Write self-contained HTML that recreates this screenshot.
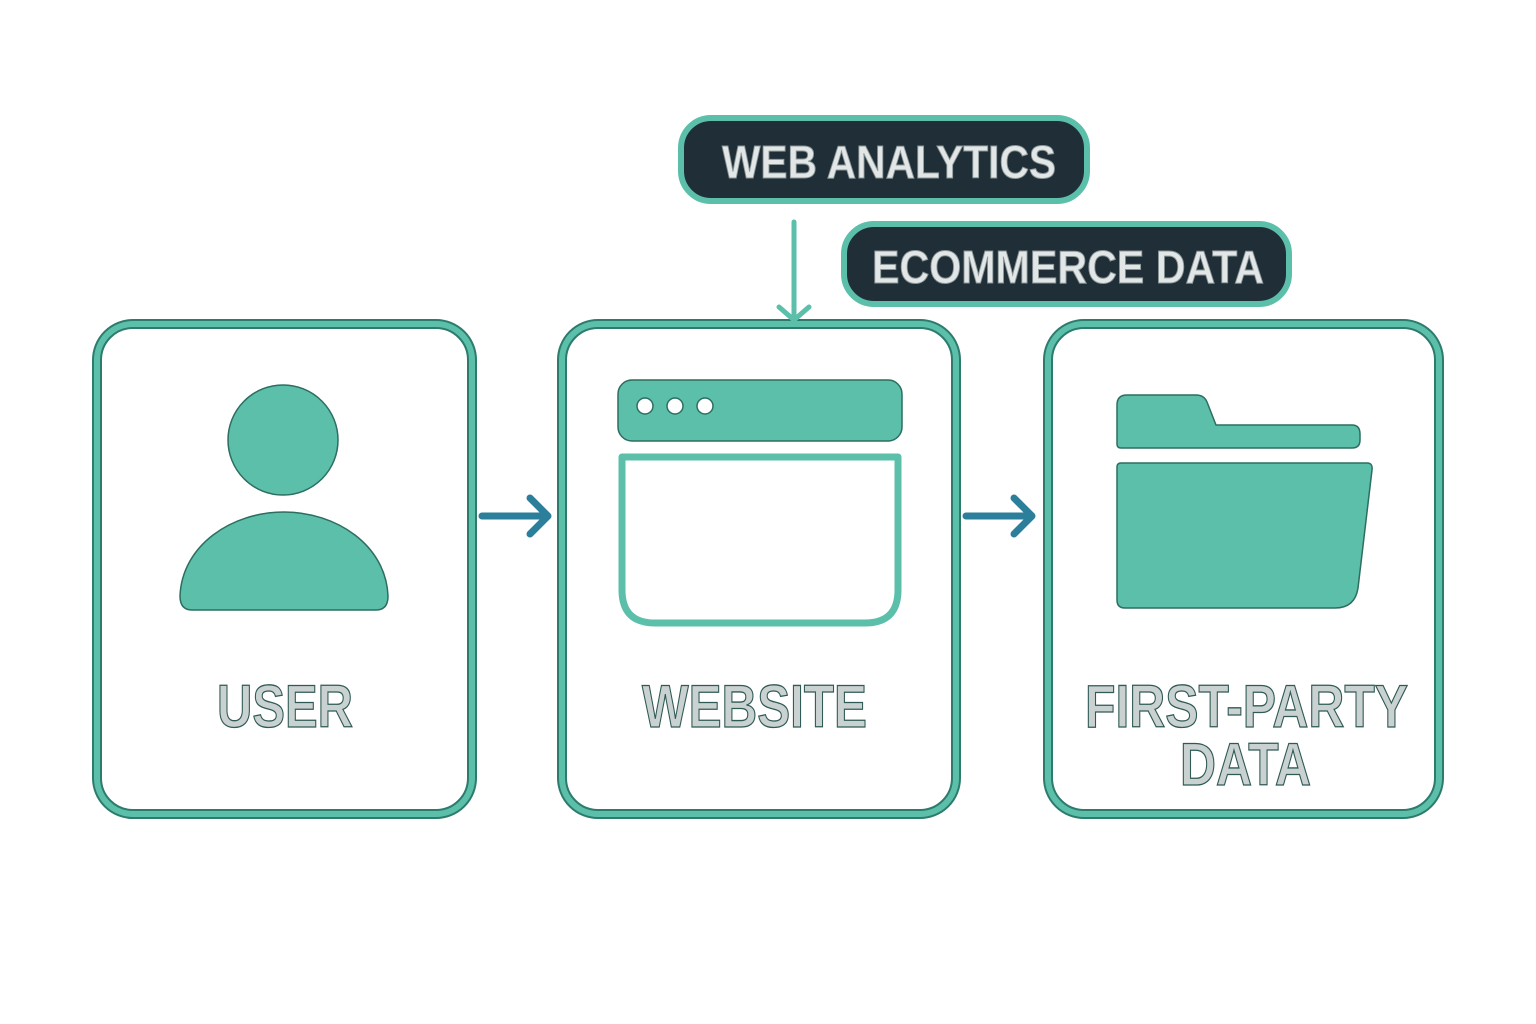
<!DOCTYPE html>
<html><head><meta charset="utf-8"><style>
html,body{margin:0;padding:0;background:#fff;width:1536px;height:1024px;overflow:hidden}
svg{display:block}
</style></head><body>
<svg width="1536" height="1024" viewBox="0 0 1536 1024" xmlns="http://www.w3.org/2000/svg">
<g fill="none" stroke-linejoin="round">
  <!-- boxes: dark edge then teal -->
  <g stroke="#2c7b6c" stroke-width="10">
    <rect x="97" y="324" width="375" height="490" rx="36"/>
    <rect x="562" y="324" width="394" height="490" rx="36"/>
    <rect x="1048" y="324" width="391" height="490" rx="36"/>
  </g>
  <g stroke="#5bbfaa" stroke-width="6">
    <rect x="97" y="324" width="375" height="490" rx="36"/>
    <rect x="562" y="324" width="394" height="490" rx="36"/>
    <rect x="1048" y="324" width="391" height="490" rx="36"/>
  </g>
</g>
<!-- pills -->
<rect x="681" y="118" width="406" height="83" rx="30" fill="#1f2e37" stroke="#5bbfaa" stroke-width="6"/>
<rect x="844" y="224" width="445" height="80" rx="30" fill="#1f2e37" stroke="#5bbfaa" stroke-width="6"/>
<g font-family="Liberation Sans, sans-serif" font-weight="bold" fill="#e2e6e6" stroke="#8a9696" stroke-width="1">
  <text x="722" y="178" font-size="46" textLength="334" lengthAdjust="spacingAndGlyphs">WEB ANALYTICS</text>
  <text x="872" y="283" font-size="46" textLength="392" lengthAdjust="spacingAndGlyphs">ECOMMERCE DATA</text>
</g>
<!-- vertical arrow -->
<g stroke="#5bbfaa" stroke-width="5" fill="none" stroke-linecap="round" stroke-linejoin="round">
  <line x1="794" y1="222" x2="794" y2="318"/>
  <polyline points="779,307 794,320 809,307"/>
</g>
<!-- horizontal arrows -->
<g stroke="#2b7f9a" stroke-width="7" fill="none" stroke-linecap="round" stroke-linejoin="round">
  <line x1="482" y1="516" x2="547" y2="516"/>
  <polyline points="530,498 548,516 530,534"/>
  <line x1="966" y1="516" x2="1031" y2="516"/>
  <polyline points="1014,498 1032,516 1014,534"/>
</g>
<!-- user icon -->
<g fill="#5bbfaa" stroke="#2c6e60" stroke-width="1.5">
  <circle cx="283" cy="440" r="55"/>
  <path d="M192,610 Q180,610 180,596 C182,545 232,512 284,512 C336,512 386,545 388,596 Q388,610 376,610 Z"/>
</g>
<!-- browser icon -->
<rect x="618" y="380" width="284" height="61" rx="14" fill="#5bbfaa" stroke="#2c6e60" stroke-width="1.5"/>
<g fill="#fff" stroke="#2c6e60" stroke-width="1.5">
  <circle cx="645" cy="406" r="8"/><circle cx="675" cy="406" r="8"/><circle cx="705" cy="406" r="8"/>
</g>
<path d="M622,457 H898 V590 Q898,623 865,623 H655 Q622,623 622,590 Z" fill="#fff" stroke="#5bbfaa" stroke-width="7" stroke-linejoin="round"/>
<!-- folder icon -->
<g fill="#5bbfaa" stroke="#2c6e60" stroke-width="1.5" stroke-linejoin="round">
  <path d="M1127,395 H1196 Q1204,395 1207,402 L1216,425 H1352 Q1360,425 1360,434 V440 Q1360,448 1352,448 H1121 Q1117,448 1117,444 V405 Q1117,395 1127,395 Z"/>
  <path d="M1121,463 H1367 Q1373,463 1372,470 L1358,588 Q1355,608 1335,608 H1125 Q1117,608 1117,600 V467 Q1117,463 1121,463 Z"/>
</g>
<!-- labels -->
<g font-family="Liberation Sans, sans-serif" font-weight="bold" fill="#c9d1d1" stroke="#2f5a55" stroke-width="1.3">
  <text x="217" y="727" font-size="60" textLength="136" lengthAdjust="spacingAndGlyphs">USER</text>
  <text x="642" y="727" font-size="60" textLength="225" lengthAdjust="spacingAndGlyphs">WEBSITE</text>
  <text x="1085" y="727" font-size="60" textLength="323" lengthAdjust="spacingAndGlyphs">FIRST-PARTY</text>
  <text x="1180" y="785" font-size="60" textLength="131" lengthAdjust="spacingAndGlyphs">DATA</text>
</g>
</svg>
</body></html>
